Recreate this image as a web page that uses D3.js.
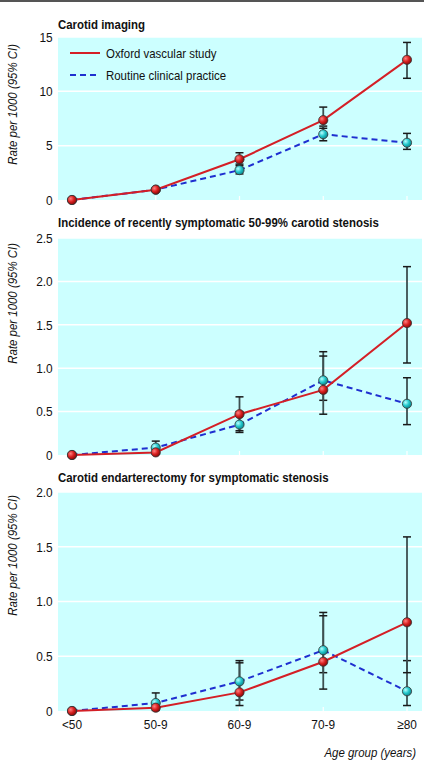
<!DOCTYPE html>
<html><head><meta charset="utf-8">
<script src="https://cdn.jsdelivr.net/npm/d3@7"></script>
<style>
html,body{margin:0;padding:0;background:#fff;}
svg{display:block;}
text{font-family:"Liberation Sans",Arial,Helvetica,sans-serif;}
</style></head><body>
<svg id="chart" width="424" height="760"></svg>
<script>
const ageGroups = ["<50","50-9","60-9","70-9","\u226580"];
const seriesNames = ["Oxford vascular study","Routine clinical practice"];
const panelTitles = ["Carotid imaging","Incidence of recently symptomatic 50-99% carotid stenosis","Carotid endarterectomy for symptomatic stenosis"];
const yLabel = "Rate per 1000 (95% CI)";
const xLabel = "Age group (years)";

const imagingTicks = [0,5,10,15];
const imagingOxford = [0, 0.95, 3.75, 7.35, 12.9];
const imagingOxfordLow = [0, 0.85, 3.3, 6.6, 11.2];
const imagingOxfordHigh = [0, 1.05, 4.35, 8.55, 14.5];
const imagingRoutine = [0, 0.95, 2.75, 6.05, 5.27];
const imagingRoutineLow = [0, 0.85, 2.4, 5.45, 4.66];
const imagingRoutineHigh = [0, 1.05, 3.15, 6.8, 6.13];

const incidenceTicks = [0,0.5,1.0,1.5,2.0,2.5];
const incidenceOxford = [0, 0.03, 0.47, 0.75, 1.52];
const incidenceOxfordLow = [0, 0.01, 0.28, 0.47, 1.06];
const incidenceOxfordHigh = [0, 0.06, 0.67, 1.14, 2.17];
const incidenceRoutine = [0, 0.085, 0.35, 0.86, 0.59];
const incidenceRoutineLow = [0, 0.02, 0.26, 0.63, 0.35];
const incidenceRoutineHigh = [0, 0.16, 0.5, 1.19, 0.89];

const endartTicks = [0,0.5,1.0,1.5,2.0];
const endartOxford = [0, 0.03, 0.17, 0.45, 0.81];
const endartOxfordLow = [0, 0.005, 0.05, 0.2, 0.35];
const endartOxfordHigh = [0, 0.06, 0.44, 0.87, 1.59];
const endartRoutine = [0, 0.073, 0.27, 0.555, 0.18];
const endartRoutineLow = [0, 0.02, 0.1, 0.35, 0.05];
const endartRoutineHigh = [0, 0.165, 0.46, 0.9, 0.46];

const panels = [
  {title: panelTitles[0], ticks: imagingTicks, fmt: d=>d===0?"0":String(d), top:37, bottom:200, titleY:29, labelTop:44,
   ox: imagingOxford, oxL: imagingOxfordLow, oxH: imagingOxfordHigh, ro: imagingRoutine, roL: imagingRoutineLow, roH: imagingRoutineHigh, legend:true},
  {title: panelTitles[1], ticks: incidenceTicks, fmt: d=>d===0?"0":d.toFixed(1), top:238, bottom:455, titleY:227, labelTop:243,
   ox: incidenceOxford, oxL: incidenceOxfordLow, oxH: incidenceOxfordHigh, ro: incidenceRoutine, roL: incidenceRoutineLow, roH: incidenceRoutineHigh},
  {title: panelTitles[2], ticks: endartTicks, fmt: d=>d===0?"0":d.toFixed(1), top:492, bottom:711, titleY:482, labelTop:495,
   ox: endartOxford, oxL: endartOxfordLow, oxH: endartOxfordHigh, ro: endartRoutine, roL: endartRoutineLow, roH: endartRoutineHigh, xaxis:true}
];

const SX = 0.88; // condensed look
const svg = d3.select("#chart");
const left = 58, right = 422;
const x = d3.scalePoint().domain(ageGroups).range([72, 407]);
const RED = "#d41f26", BLUE = "#1f2fd0";

function label(g, px, py, str, size, opts={}) {
  const t = g.append("text")
    .attr("transform", `translate(${px},${py})${opts.rotate?" rotate(-90)":""} scale(${SX},1)`)
    .attr("font-size", size).attr("fill", "#111").text(str);
  if (opts.anchor) t.attr("text-anchor", opts.anchor);
  if (opts.bold) t.attr("font-weight", "bold");
  if (opts.italic) t.attr("font-style", "italic");
  return t;
}

const defs = svg.append("defs");
function grad(id, light, mid, dark){
  const g = defs.append("radialGradient").attr("id", id).attr("cx","35%").attr("cy","35%").attr("r","65%");
  g.append("stop").attr("offset","0%").attr("stop-color", light);
  g.append("stop").attr("offset","55%").attr("stop-color", mid);
  g.append("stop").attr("offset","100%").attr("stop-color", dark);
}
grad("gRed", "#ff8080", "#d92020", "#8a0c0c");
grad("gCyan", "#b8ffff", "#22c8cc", "#0e8a90");

svg.append("rect").attr("x",0).attr("y",0).attr("width",424).attr("height",2).attr("fill","#555");

panels.forEach(p => {
  const y = d3.scaleLinear().domain([0, p.ticks[p.ticks.length-1]]).range([p.bottom, p.top]);
  const g = svg.append("g");
  g.append("rect").attr("x", left).attr("y", p.top).attr("width", right-left).attr("height", p.bottom-p.top).attr("fill", "#ccffff");
  g.selectAll(".grid").data(p.ticks.filter(t=>t>0)).join("line")
    .attr("x1", left).attr("x2", right).attr("y1", d=>y(d)).attr("y2", d=>y(d))
    .attr("stroke","#fff").attr("stroke-width",1.5);
  g.selectAll(".xt").data(ageGroups.slice(1)).join("line")
    .attr("x1", d=>x(d)).attr("x2", d=>x(d)).attr("y1", p.bottom).attr("y2", p.bottom-4)
    .attr("stroke","#fff").attr("stroke-width",1.2);
  const ax = d3.axisLeft(y).tickValues(p.ticks).tickFormat(p.fmt).tickSize(0).tickPadding(6);
  const axg = g.append("g").attr("transform", `translate(${left},0)`).call(ax);
  axg.select(".domain").remove();
  axg.selectAll("text").attr("font-size", 13.5).attr("fill","#111")
    .attr("transform", `scale(${SX},1)`)
    .style("font-family", '"Liberation Sans",Arial,sans-serif');
  label(g, left, p.titleY, p.title, 13, {bold:true});
  label(g, 17, p.labelTop, yLabel, 13, {rotate:true, anchor:"end", italic:true});

  const series = [
    {v:p.ro, lo:p.roL, hi:p.roH, color:BLUE, dash:"6,4", fill:"url(#gCyan)"},
    {v:p.ox, lo:p.oxL, hi:p.oxH, color:RED, dash:null, fill:"url(#gRed)"}
  ];
  series.forEach(s => {
    const idx = d3.range(ageGroups.length).filter(i => s.hi[i] > s.lo[i]);
    const eb = g.append("g");
    eb.selectAll("line.v").data(idx).join("line")
      .attr("x1", i=>x(ageGroups[i])).attr("x2", i=>x(ageGroups[i]))
      .attr("y1", i=>y(s.lo[i])).attr("y2", i=>y(s.hi[i]))
      .attr("stroke","#3d4f50").attr("stroke-width",1.8);
    ["lo","hi"].forEach(k => {
      eb.selectAll("line."+k).data(idx).join("line")
        .attr("x1", i=>x(ageGroups[i])-4).attr("x2", i=>x(ageGroups[i])+4)
        .attr("y1", i=>y(s[k][i])).attr("y2", i=>y(s[k][i]))
        .attr("stroke","#1a1a1a").attr("stroke-width",1.5);
    });
  });
  series.forEach(s => {
    g.append("path").datum(s.v)
      .attr("d", d3.line().x((d,i)=>x(ageGroups[i])).y(d=>y(d)))
      .attr("fill","none").attr("stroke", s.color).attr("stroke-width",2)
      .attr("stroke-dasharray", s.dash);
  });
  series.forEach(s => {
    g.selectAll(null).data(s.v).join("circle")
      .attr("cx", (d,i)=>x(ageGroups[i])).attr("cy", d=>y(d)).attr("r", 4.6)
      .attr("fill", s.fill).attr("stroke","#333").attr("stroke-width",0.8);
  });

  if (p.legend) {
    const items = [{name:seriesNames[0], color:RED, dash:null, y:53},{name:seriesNames[1], color:BLUE, dash:"6,4", y:75}];
    items.forEach(it => {
      g.append("line").attr("x1",70).attr("x2",100).attr("y1",it.y).attr("y2",it.y)
        .attr("stroke", it.color).attr("stroke-width",2).attr("stroke-dasharray", it.dash);
      label(g, 106, it.y+4.5, it.name, 13);
    });
  }
  if (p.xaxis) {
    ageGroups.forEach(a => label(g, x(a), p.bottom+18, a, 13.5, {anchor:"middle"}));
    label(g, 416, 757, xLabel, 13, {anchor:"end", italic:true});
  }
});
</script>
</body></html>
